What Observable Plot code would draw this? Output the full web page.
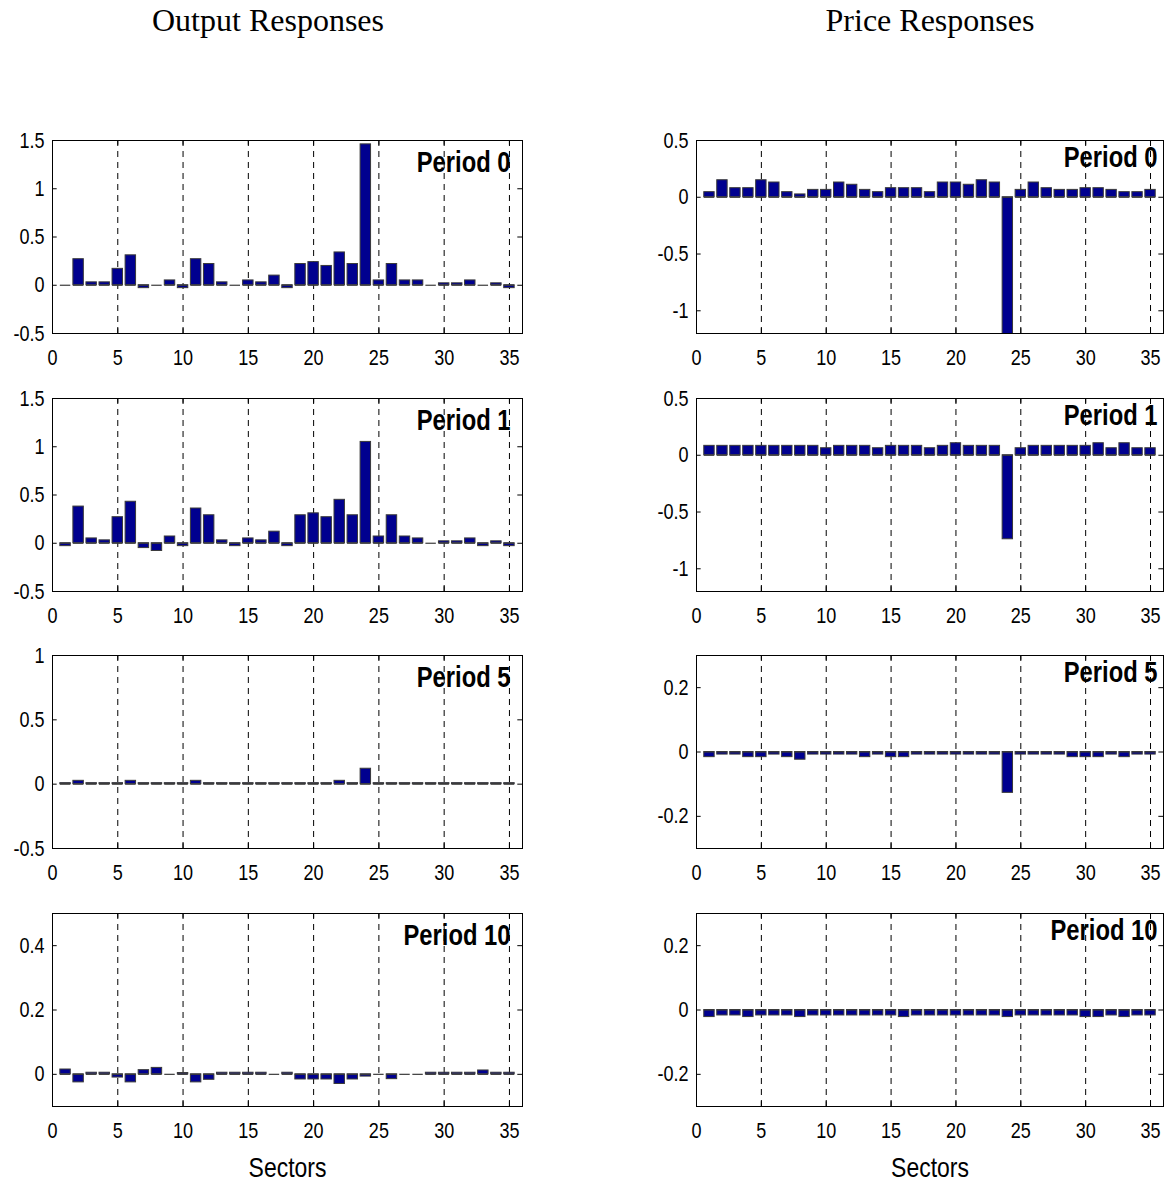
<!DOCTYPE html>
<html>
<head>
<meta charset="utf-8">
<script src="https://cdn.jsdelivr.net/npm/d3@7"></script>
<script src="https://cdn.jsdelivr.net/npm/@observablehq/plot@0.6"></script>
<style>
  body { margin: 0; background: #fff; }
  #root { position: relative; width: 1172px; height: 1187px; background: #fff; overflow: hidden; }
  .title { position: absolute; top: 4px; font-family: "Liberation Serif", "Times New Roman", serif; font-size: 32px; line-height: 32px; color: #000; transform: translateX(-50%); white-space: nowrap; }
  .panel { position: absolute; }
</style>
</head>
<body>
<div id="root"></div>
<script>
// ---------- data ----------
const sectors = [1,2,3,4,5,6,7,8,9,10,11,12,13,14,15,16,17,18,19,20,21,22,23,24,25,26,27,28,29,30,31,32,33,34,35];
const xTickValues = [0,5,10,15,20,25,30,35];
const gridValues = [5,10,15,20,25,30,35];

const outputPeriod0 = [0,0.27,0.03,0.03,0.17,0.31,-0.03,0,0.05,-0.03,0.27,0.22,0.03,0,0.05,0.03,0.10,-0.03,0.22,0.24,0.20,0.34,0.22,1.46,0.05,0.22,0.05,0.05,0,0.02,0.02,0.05,0,0.02,-0.03];
const outputPeriod1 = [-0.03,0.38,0.05,0.03,0.27,0.43,-0.05,-0.08,0.07,-0.03,0.36,0.29,0.03,-0.03,0.05,0.03,0.12,-0.03,0.29,0.31,0.27,0.45,0.29,1.05,0.07,0.29,0.07,0.05,0,0.02,0.02,0.05,-0.03,0.02,-0.03];
const outputPeriod5 = [0.008,0.026,0.008,0.008,0.008,0.026,0.008,0.008,0.008,0.008,0.026,0.008,0.008,0.008,0.008,0.008,0.008,0.008,0.008,0.008,0.008,0.026,0.008,0.12,0.008,0.008,0.008,0.008,0.008,0.008,0.008,0.008,0.008,0.008,0.008];
const outputPeriod10 = [0.015,-0.025,0.005,0.005,-0.01,-0.025,0.013,0.02,0,0.004,-0.025,-0.017,0.005,0.005,0.005,0.005,0,0.005,-0.016,-0.016,-0.016,-0.03,-0.016,-0.007,0,-0.015,0,0,0.005,0.005,0.005,0.005,0.012,0.005,0.005];

const pricePeriod0 = [0.045,0.15,0.08,0.08,0.15,0.13,0.045,0.025,0.065,0.065,0.13,0.11,0.065,0.045,0.08,0.08,0.08,0.045,0.13,0.13,0.11,0.15,0.13,-1.3,0.065,0.13,0.08,0.065,0.065,0.08,0.08,0.065,0.045,0.045,0.065];
const pricePeriod1 = [0.083,0.083,0.083,0.083,0.083,0.083,0.083,0.083,0.083,0.062,0.083,0.083,0.083,0.062,0.083,0.083,0.083,0.062,0.083,0.106,0.083,0.083,0.083,-0.74,0.062,0.083,0.083,0.083,0.083,0.083,0.106,0.062,0.106,0.062,0.062];
const pricePeriod5 = [-0.016,-0.008,-0.008,-0.016,-0.016,-0.008,-0.016,-0.024,-0.008,-0.008,-0.008,-0.008,-0.016,-0.008,-0.016,-0.016,-0.008,-0.008,-0.008,-0.008,-0.008,-0.008,-0.008,-0.127,-0.008,-0.008,-0.008,-0.008,-0.016,-0.016,-0.016,-0.008,-0.016,-0.008,-0.008];
const pricePeriod10 = [-0.022,-0.017,-0.017,-0.022,-0.017,-0.017,-0.017,-0.022,-0.017,-0.017,-0.017,-0.017,-0.017,-0.017,-0.017,-0.022,-0.017,-0.017,-0.017,-0.017,-0.017,-0.017,-0.017,-0.022,-0.017,-0.017,-0.017,-0.017,-0.017,-0.022,-0.022,-0.017,-0.022,-0.017,-0.017];

const columnTitles = ["Output Responses", "Price Responses"];
const periodLabels = ["Period 0", "Period 1", "Period 5", "Period 10"];
const xLabel = "Sectors";

const outputTicks = [[-0.5,0,0.5,1,1.5],[-0.5,0,0.5,1,1.5],[-0.5,0,0.5,1],[0,0.2,0.4]];
const outputDomains = [[-0.5,1.5],[-0.5,1.5],[-0.5,1],[-0.1,0.5]];
const priceTicks = [[-1,-0.5,0,0.5],[-1,-0.5,0,0.5],[-0.2,0,0.2],[-0.2,0,0.2]];
const priceDomains = [[-1.2,0.5],[-1.2,0.5],[-0.3,0.3],[-0.3,0.3]];

// ---------- layout / style ----------
const FONT = '"Liberation Sans", Arial, Helvetica, sans-serif';
const BAR = "#00008f";
const EDGE = "#3a3a3a";
const SX = 0.82;                      // horizontal text compression
const frameTops = [140, 398, 655, 913];
const frameH = 193;
const root = document.getElementById("root");

columnTitles.forEach((t, i) => {
  const d = document.createElement("div");
  d.className = "title";
  d.textContent = t;
  d.style.left = (i === 0 ? 268 : 930) + "px";
  root.appendChild(d);
});

function condense(svg) {
  svg.querySelectorAll("text").forEach(el => {
    const t = el.getAttribute("transform");
    if (t) el.setAttribute("transform", t + ` scale(${SX},1)`);
    else {
      const x = +(el.getAttribute("x") || 0);
      el.setAttribute("transform", `translate(${x * (1 - SX)},0) scale(${SX},1)`);
    }
  });
}

function panel(values, label, yDomain, yTicks, col, row) {
  const bottom = row === 3;
  const svgLeft = col === 0 ? 0 : 586;
  const frameLeft = col === 0 ? 52 : 696;
  const frameRight = col === 0 ? 522 : 1163;
  const marginTop = 20;
  const marginBottom = bottom ? 81 : 45;
  const data = sectors.map((s, i) => ({s, v: values[i]}));
  const [y0, y1] = yDomain;
  const ytl = (y1 - y0) * 0.025;
  const chart = Plot.plot({
    width: 586,
    height: marginTop + frameH + marginBottom,
    marginLeft: frameLeft - svgLeft,
    marginRight: svgLeft + 586 - frameRight,
    marginTop, marginBottom,
    x: {domain: [0, 36]},
    y: {domain: yDomain},
    style: {fontFamily: FONT, fontSize: "22px", background: "transparent", color: "#000", overflow: "visible"},
    marks: [
      Plot.ruleX(gridValues, {stroke: "#000", strokeWidth: 1, strokeDasharray: "6,5"}),
      Plot.rect(data, {x1: d => d.s - 0.4, x2: d => d.s + 0.4, y1: () => 0, y2: "v", fill: BAR, stroke: EDGE, strokeWidth: 1, clip: true}),
      // bar bottom edge at the baseline (visible for zero-height bars)
      Plot.ruleY(data, {y: () => 0, x1: d => d.s - 0.4, x2: d => d.s + 0.4, stroke: EDGE, strokeWidth: 1.2}),
      Plot.ruleY(yTicks, {x1: () => 0, x2: () => 0.36, stroke: "#000"}),
      Plot.ruleY(yTicks, {x1: () => 35.64, x2: () => 36, stroke: "#000"}),
      Plot.ruleX(xTickValues, {y1: () => y0, y2: () => y0 + ytl, stroke: "#000"}),
      Plot.ruleX(xTickValues, {y1: () => y1 - ytl, y2: () => y1, stroke: "#000"}),
      Plot.frame({stroke: "#000", strokeWidth: 1}),
      Plot.axisX(xTickValues, {tickSize: 0, tickPadding: 16, fontSize: 22, tickFormat: d => String(d), label: null}),
      Plot.axisY(yTicks, {tickSize: 0, tickPadding: 8, fontSize: 22, tickFormat: d => String(d), label: null}),
      Plot.text([label], {text: d => d, frameAnchor: "top-right", lineAnchor: "top", dx: col === 0 ? -12 : -6, dy: col === 0 ? 11 : 6, fontWeight: "bold", fontSize: 29, fill: "#000"}),
      bottom ? Plot.text([xLabel], {text: d => d, frameAnchor: "bottom", lineAnchor: "middle", dy: 62, fontSize: 28, fill: "#000"}) : null
    ]
  });
  condense(chart);
  chart.classList.add("panel");
  chart.style.left = svgLeft + "px";
  chart.style.top = (frameTops[row] - marginTop) + "px";
  root.appendChild(chart);
}

const outputSeries = [outputPeriod0, outputPeriod1, outputPeriod5, outputPeriod10];
const priceSeries = [pricePeriod0, pricePeriod1, pricePeriod5, pricePeriod10];
for (let r = 0; r < 4; r++) {
  panel(outputSeries[r], periodLabels[r], outputDomains[r], outputTicks[r], 0, r);
  panel(priceSeries[r], periodLabels[r], priceDomains[r], priceTicks[r], 1, r);
}
</script>
</body>
</html>
